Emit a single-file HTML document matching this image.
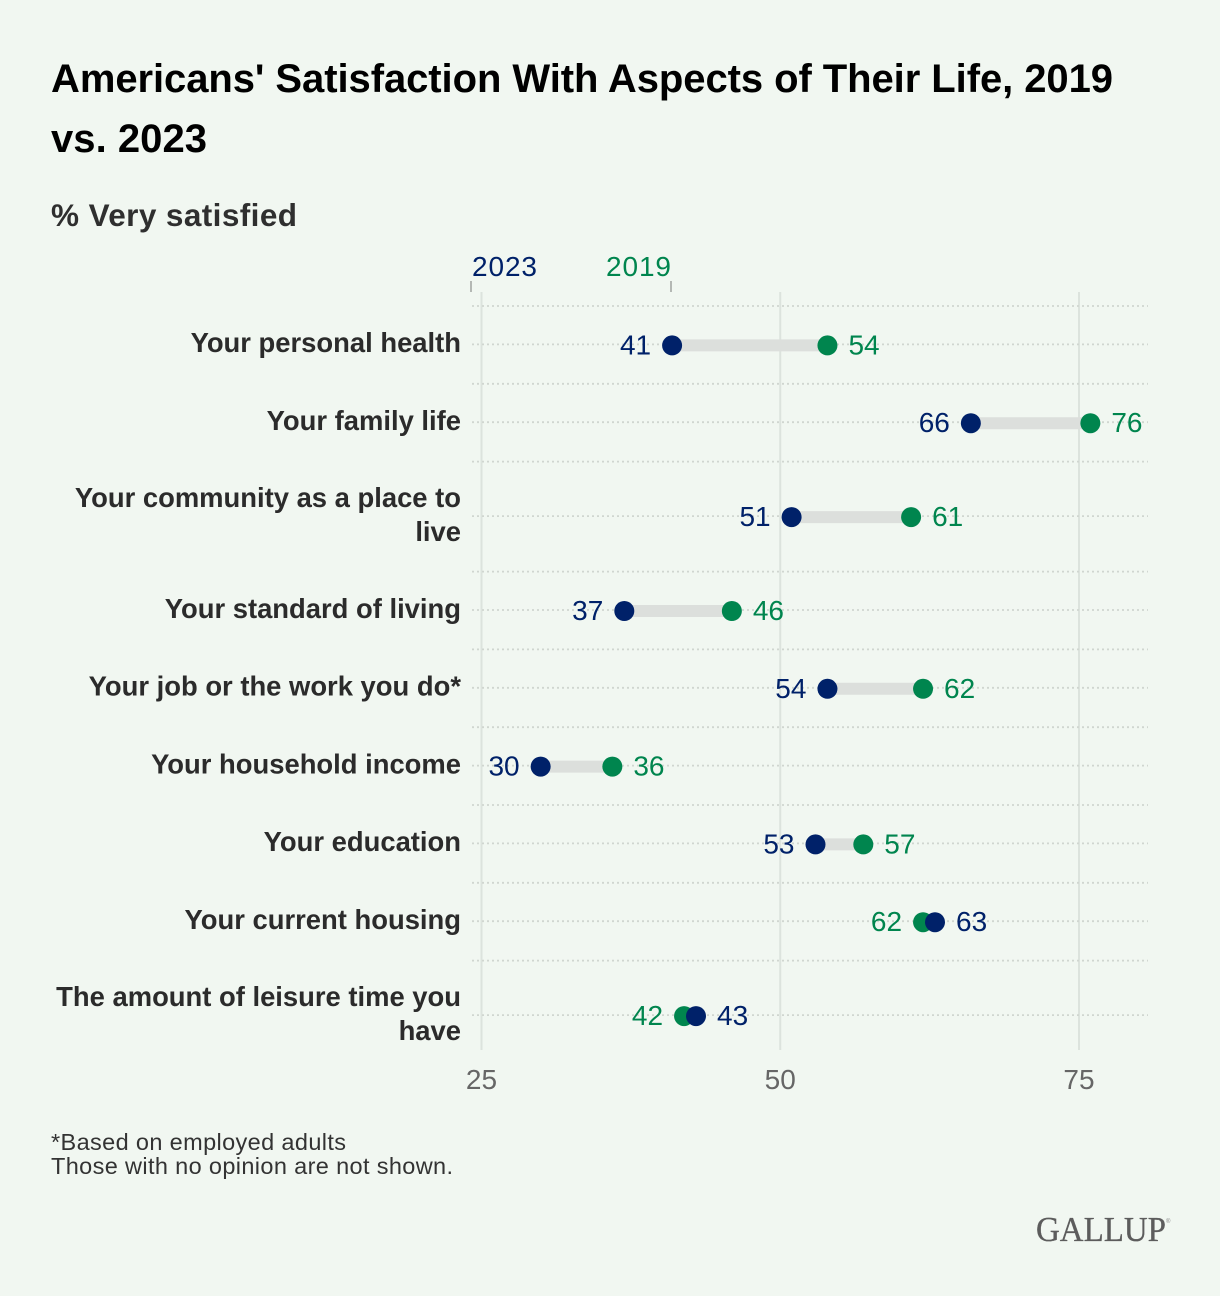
<!DOCTYPE html>
<html lang="en">
<head>
<meta charset="utf-8">
<title>Americans' Satisfaction With Aspects of Their Life, 2019 vs. 2023</title>
<style>
html,body{margin:0;padding:0;background:#f1f7f1;}
svg{display:block;font-family:"Liberation Sans",sans-serif;}
.row-label{font-size:27.4px;font-weight:700;fill:#2b2b2b;text-anchor:end;}
.val{font-size:28px;}
</style>
</head>
<body>
<svg id="chart" xmlns="http://www.w3.org/2000/svg" width="1220" height="1296" viewBox="0 0 1220 1296">
  <rect x="0" y="0" width="1220" height="1296" fill="#f1f7f1"/>
  <text x="51" y="92" font-size="40" font-weight="700" fill="#000" textLength="1062" lengthAdjust="spacing">Americans' Satisfaction With Aspects of Their Life, 2019</text>
  <text x="51" y="152" font-size="40" font-weight="700" fill="#000" textLength="156" lengthAdjust="spacing">vs. 2023</text>
  <text x="51" y="226" font-size="31.5" font-weight="700" fill="#2f2f2f" textLength="246" lengthAdjust="spacing">% Very satisfied</text>

  <text x="472" y="276" font-size="28" fill="#002169" textLength="65" lengthAdjust="spacing">2023</text>
  <line x1="471" y1="281" x2="471" y2="292" stroke="#a0a3a0" stroke-width="1.5"/>
  <text x="606" y="276" font-size="28" fill="#00854e" textLength="65" lengthAdjust="spacing">2019</text>
  <line x1="671" y1="281" x2="671" y2="292" stroke="#a0a3a0" stroke-width="1.5"/>

  <g id="grid-layer"></g>
  <g id="rows-layer"></g>
  <g id="axis-layer"></g>

  <text x="51" y="1150" font-size="23.5" fill="#333" textLength="295" lengthAdjust="spacing">*Based on employed adults</text>
  <text x="51" y="1174" font-size="23.5" fill="#333" textLength="402" lengthAdjust="spacing">Those with no opinion are not shown.</text>
  <text x="1036" y="1241" font-family="'Liberation Serif',serif" font-size="35" fill="#5c5c5c" stroke="#5c5c5c" stroke-width="0.3" textLength="130" lengthAdjust="spacingAndGlyphs">GALLUP</text>
  <text x="1166" y="1223" font-size="6" fill="#8a8a8a">®</text>
</svg>
<script>
const categories = [
  ["Your personal health"],
  ["Your family life"],
  ["Your community as a place to", "live"],
  ["Your standard of living"],
  ["Your job or the work you do*"],
  ["Your household income"],
  ["Your education"],
  ["Your current housing"],
  ["The amount of leisure time you", "have"]
];
const values2023 = [41, 66, 51, 37, 54, 30, 53, 63, 43];
const values2019 = [54, 76, 61, 46, 62, 36, 57, 62, 42];
const xTicks = [25, 50, 75];

const NS = "http://www.w3.org/2000/svg";
const NAVY = "#002169", GREEN = "#00854e";
const xScale = v => 481.5 + (v - 25) * (1079 - 481.5) / 50;
const pointShift = -0.6;
const plotTop = 306, plotBottom = 1050, gridLeft = 472, gridRight = 1148;
const rowHeight = n => n > 1 ? 110 : 77.8;

function mk(tag, parent, props, text) {
  const el = document.createElementNS(NS, tag);
  for (const k in props) el.setAttribute(k, props[k]);
  if (text !== undefined) el.textContent = text;
  parent.appendChild(el);
  return el;
}

const gridLayer = document.getElementById("grid-layer");
const rowsLayer = document.getElementById("rows-layer");
const axisLayer = document.getElementById("axis-layer");

function dottedLine(y) {
  const l = mk("line", gridLayer, {x1: gridLeft, x2: gridRight, y1: y, y2: y, stroke: "#d0d6d0", "stroke-width": 1.8, "stroke-dasharray": "2 3"});
  
  
}

xTicks.forEach(t => {
  const l = mk("line", gridLayer, {x1: xScale(t), x2: xScale(t), y1: 292, y2: plotBottom, stroke: "#dce3dd", "stroke-width": 2});
  
  
  const tx = mk("text", axisLayer, {x: xScale(t), y: 1089, "font-size": 28, fill: "#666", "text-anchor": "middle"}, t);
  
  
});

let rowTop = plotTop;
categories.forEach((lines, i) => {
  const h = rowHeight(lines.length);
  const cy = rowTop + h / 2;
  dottedLine(rowTop);
  dottedLine(cy - 0.5);

  const g = mk("g", rowsLayer, {});
  
  

  lines.forEach((line, j) => {
    const t = mk("text", g, {class: "row-label", x: 461, y: cy + 7.3 - 17 * (lines.length - 1) + 34 * j}, line);
    
    
  });

  const a = values2023[i], b = values2019[i];
  const xa = xScale(a) + pointShift, xb = xScale(b) + pointShift;
  const c = mk("line", g, {x1: xa, x2: xb, y1: cy + 0.5, y2: cy + 0.5, stroke: "#dcdfdc", "stroke-width": 12});
  
  

  const d19 = mk("circle", g, {cx: xb, cy: cy + 0.5, r: 10, fill: GREEN});
  
  
  const d23 = mk("circle", g, {cx: xa, cy: cy + 0.5, r: 10, fill: NAVY});
  
  

  const aLeft = a < b;
  const la = mk("text", g, {class: "val", x: xa + (aLeft ? -21 : 21), y: cy + 9.5, fill: NAVY, "text-anchor": aLeft ? "end" : "start"}, a);
  
  
  const lb = mk("text", g, {class: "val", x: xb + (aLeft ? 21 : -21), y: cy + 9.5, fill: GREEN, "text-anchor": aLeft ? "start" : "end"}, b);
  
  

  rowTop += h;
});
</script>
</body>
</html>
